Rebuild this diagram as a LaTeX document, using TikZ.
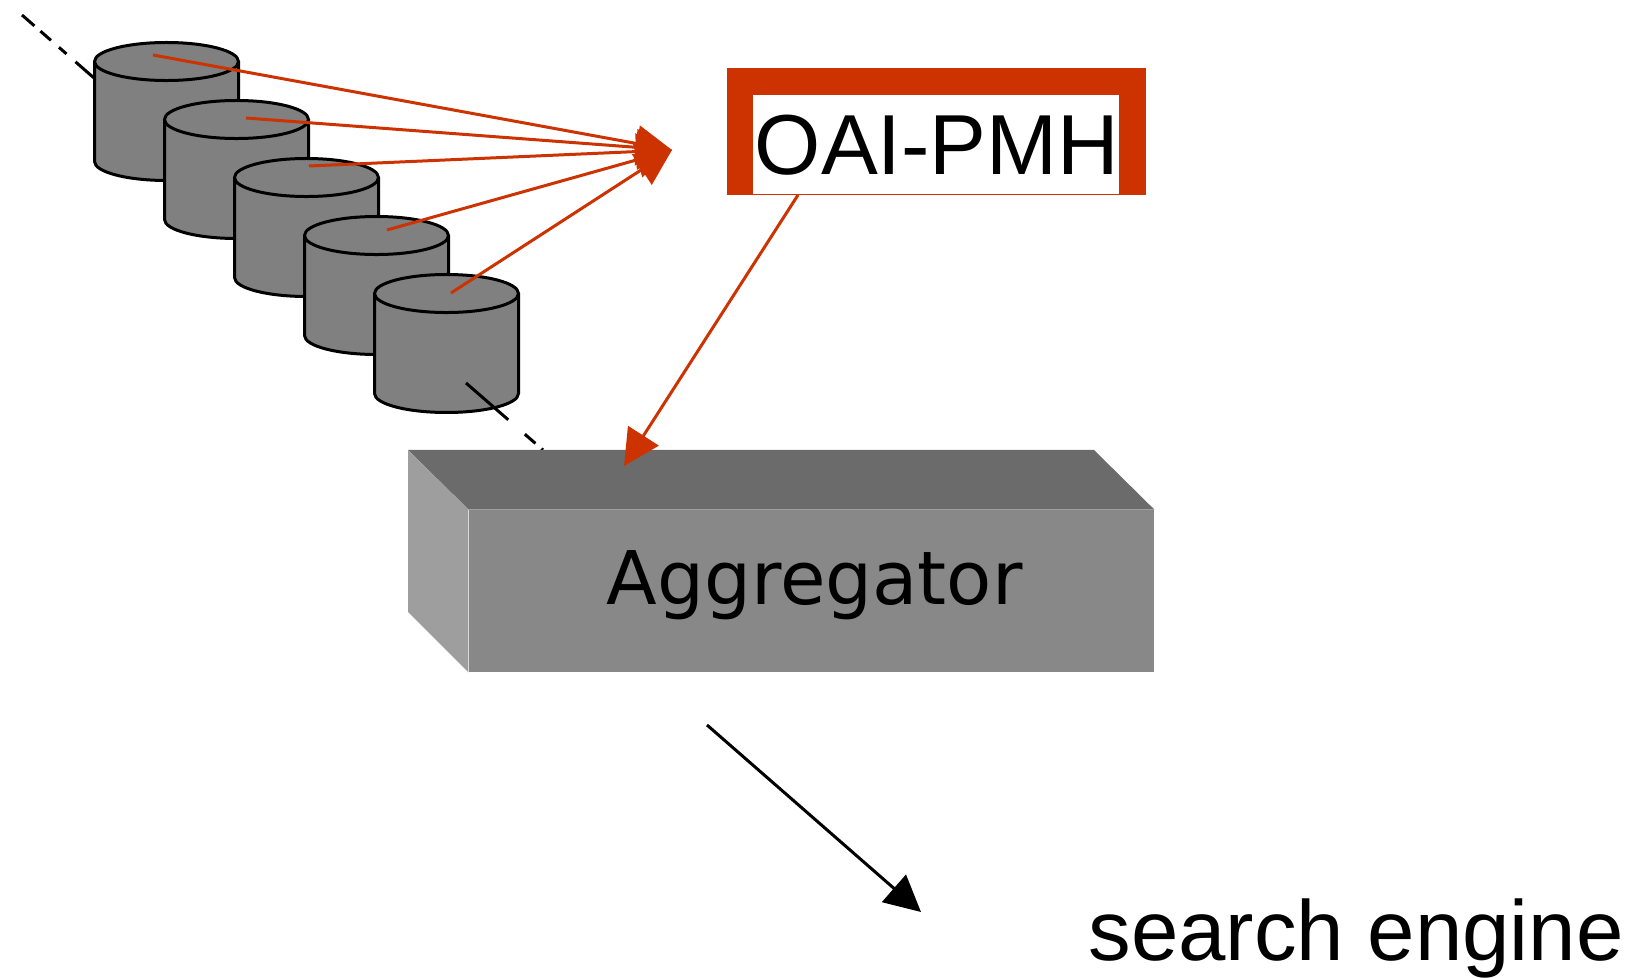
\documentclass[tikz,border=0pt]{standalone}
\usepackage{fontspec}
\setmainfont{Liberation Sans}
\newfontfamily\boxfont{DejaVu Sans}
\usetikzlibrary{shapes.geometric,arrows.meta}
\definecolor{oaired}{HTML}{CC3300}
\definecolor{diskgray}{HTML}{808080}
\definecolor{boxfront}{HTML}{888888}
\definecolor{boxtop}{HTML}{6B6B6B}
\definecolor{boxleft}{HTML}{9E9E9E}
\begin{document}
\begin{tikzpicture}[x=0.5pt,y=-0.5pt]
\tikzstyle{disk}=[draw,cylinder,shape border rotate=90,shape aspect=0.264,fill=diskgray,line width=1.5pt,inner xsep=36pt,inner ysep=0pt,minimum height=69pt,anchor=shape center]
\tikzstyle{oaiarrow}=[oaired,line width=1.5pt,-{Triangle[length=18pt,width=18pt]}]
\tikzstyle{dashline}=[black,line width=1.5pt]
\tikzstyle{bigtext}=[font=\fontsize{42.6}{50}\selectfont]
\useasboundingbox (0,0) rectangle (1633,978);
\coordinate (t0) at (22,15);
\coordinate (t1) at (94,78);
\coordinate (b0) at (466,383);
\coordinate (b1) at (543,450);
\coordinate (s1) at (153,55);
\coordinate (s2) at (246,118);
\coordinate (s3) at (309,166);
\coordinate (s4) at (387,230);
\coordinate (s5) at (451,293);
\coordinate (hub) at (672,150);
\coordinate (m0) at (798,195);
\coordinate (m1) at (624,466);
\coordinate (e0) at (707,725);
\coordinate (e1) at (921,912);
\draw[dashline,dash pattern=on 8.25pt off 4pt on 7pt off 5.3pt on 5pt off 6pt on 13pt off 20pt] (t0) -- (t1);
\node[disk] (d1) at (166.5,111.5) {};
\node[disk] (d2) at (236.5,169.5) {};
\node[disk] (d3) at (306.5,227.5) {};
\node[disk] (d4) at (376.5,285.5) {};
\node[disk] (d5) at (446.5,343.5) {};
\draw[dashline,dash pattern=on 28pt off 11pt on 7pt off 4pt on 1pt off 50pt] (b0) -- (b1);
\node[fill=boxfront,inner sep=0pt,minimum width=342.5pt,minimum height=81pt,text height=26pt,text depth=13pt,font=\boxfont\fontsize{37}{44}\selectfont] (front) at (811.5,591) {\hspace*{3pt}Aggregator};
\coordinate (backw) at (408,450);
\coordinate (backe) at (1094,450);
\coordinate (lowb) at (408,612);
\fill[boxtop] (backw) -- (backe) -- (front.north east) -- (front.north west) -- cycle;
\fill[boxleft] (backw) -- (front.north west) -- (front.south west) -- (lowb) -- cycle;
\draw[white!70!gray,line width=0.4pt] (front.north west) -- (front.south west);
\node[fill=oaired,inner sep=0pt,minimum width=209.5pt,minimum height=63.5pt] (frame) at (936.5,131.5) {};
\node[fill=white,inner sep=0pt,minimum width=183pt,minimum height=49.5pt,text height=30.5pt,text depth=0pt,bigtext] (oai) at (936,144.5) {\hspace*{1pt}OAI-PMH};
\node[bigtext,anchor=base west,inner sep=0pt] (engine) at (1088,960) {search engine};
\draw[oaiarrow] (s1) -- (hub);
\draw[oaiarrow] (s2) -- (hub);
\draw[oaiarrow] (s3) -- (hub);
\draw[oaiarrow] (s4) -- (hub);
\draw[oaiarrow] (s5) -- (hub);
\draw[oaiarrow] (m0) -- (m1);
\draw[line width=1.5pt,-{Triangle[length=18pt,width=18pt]}] (e0) -- (e1);
\end{tikzpicture}
\end{document}
